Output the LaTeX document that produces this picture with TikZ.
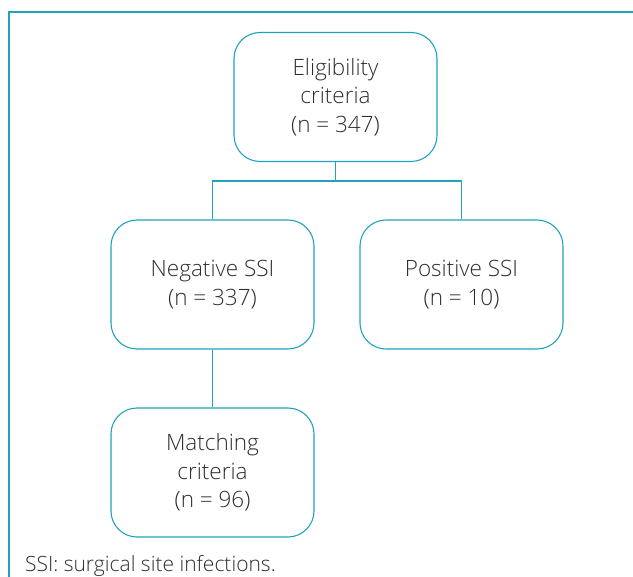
\documentclass[tikz,border=0pt]{standalone}
\usepackage{fontspec}
\setmainfont{Open Sans}[UprightFont=* Light]
\usepackage{xcolor}
\usetikzlibrary{positioning}
\definecolor{teal1}{RGB}{32,163,186}
\definecolor{ink}{RGB}{45,45,45}

\begin{document}
\begin{tikzpicture}[x=1pt, y=-1pt,
            box/.style={draw=teal1, line width=1.1pt, rectangle, rounded corners=26pt, align=center, text=ink,
                        minimum width=203pt, minimum height=129pt, font=\fontsize{22.5}{28.5}\selectfont},
            link/.style={draw=teal1, line width=1.1pt}]
            \useasboundingbox (0,0) rectangle (633,577);
            % frame
            \draw[link] (633,12) -- (9,12) -- (9,577);

            \node[box] (elig) at (335.5,97) {Eligibility\\criteria\\(n = 347)};
            \node[box] (neg) at (212.5,284.5) {Negative SSI\\(n = 337)};
            \node[box] (pos) at (461.5,284.5) {Positive SSI\\(n = 10)};
            \node[box] (match) at (212.5,472.5) {Matching\\criteria\\(n = 96)};
            \coordinate (split) at (335.5,181);

            \draw[link] (elig) -- (split);
            \draw[link] (split) -| (neg);
            \draw[link] (split) -| (pos);
            \draw[link] (neg) -- (match);

            \node[anchor=base west, inner sep=0pt, text=ink, font=\fontsize{21}{24}\selectfont] (note) at (25,572) {SSI: surgical site infections.};
        \end{tikzpicture}
\end{document}
